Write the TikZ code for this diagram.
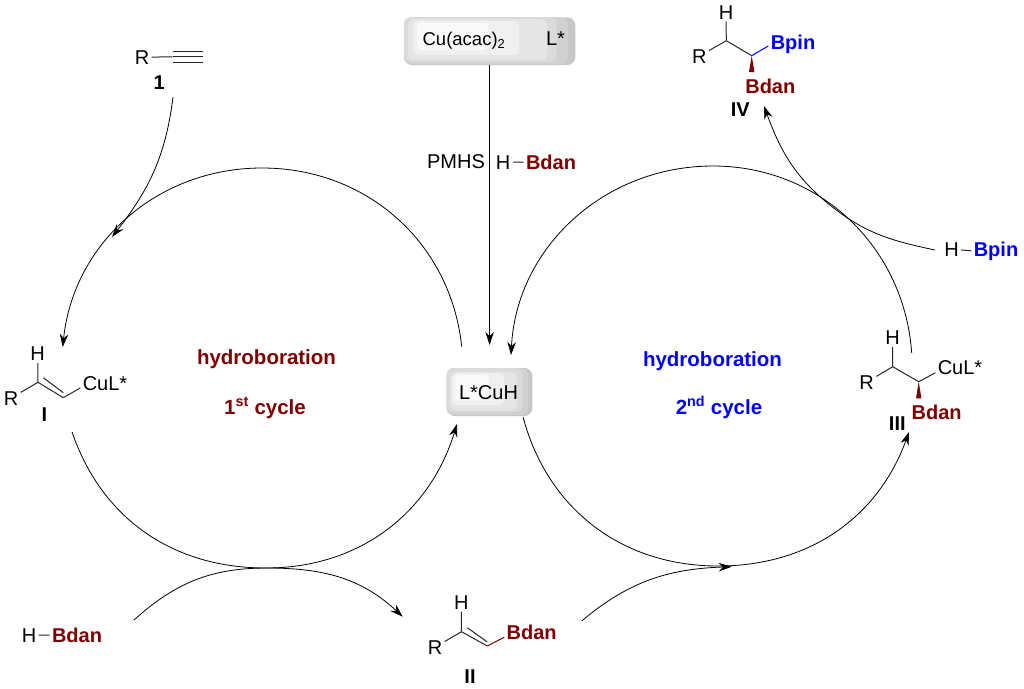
\documentclass[tikz,border=0pt]{standalone}
\usepackage{fontspec}
\setmainfont{Liberation Sans}
\usetikzlibrary{arrows.meta}
\definecolor{bdanred}{HTML}{800000}
\definecolor{bpinblue}{HTML}{0000FF}
\begin{document}
\begin{tikzpicture}[x=1pt, y=-1pt]
\tikzset{atome/.style={inner sep=0pt, outer sep=2.5pt, anchor=base, font=\fontsize{20}{24}\selectfont}}
\tikzset{gras/.style={atome, font=\fontsize{20}{24}\selectfont\bfseries}}
\tikzset{titre/.style={inner sep=0pt, outer sep=0pt, anchor=base, font=\fontsize{20.5}{24}\selectfont\bfseries}}
\tikzset{lien/.style={line width=1pt, black!85}}
\tikzset{fleche/.style={line width=0.8pt, -{Stealth[length=13pt, width=8.5pt]}}}
\tikzset{boite/.style={fill=black!22, rounded corners=8pt, inner sep=0pt}}
\tikzset{bandea/.style={fill=black!18, rounded corners=7pt}}
\tikzset{bandeb/.style={fill=black!14, rounded corners=7pt}}
\tikzset{bandec/.style={fill=black!10, rounded corners=6pt}}
\tikzset{banded/.style={fill=black!6, rounded corners=5pt}}
\tikzset{bandee/.style={fill=black!2, rounded corners=4pt}}
\useasboundingbox (0,0) rectangle (1024,688);
% boxes
\node[boite, minimum width=171.3pt, minimum height=47.7pt] (CAT) at (489.6,41.2) {};
\fill[bandea] (404,17.3) rectangle (568,64);
\fill[bandeb] (404,17.3) rectangle (556.7,62);
\fill[bandec] (408,19) rectangle (547,60);
\fill[banded] (413,21) rectangle (519,55);
\fill[bandee] (417,23) rectangle (488,50);
\node[boite, minimum width=85.6pt, minimum height=48pt] (CUH) at (489.5,392) {};
\fill[bandea] (446.7,368) rectangle (528,415);
\fill[bandeb] (446.7,368) rectangle (522.7,412);
\fill[bandec] (450,372) rectangle (517,410);
\fill[banded] (452,373) rectangle (504,405);
\fill[bandee] (455,375) rectangle (489,400);
\node[atome, font=\fontsize{18.5}{22}\selectfont] (ACAC) at (464,45) {Cu(acac)\textsubscript{2}};
\node[atome] (LS) at (555.5,45) {L*};
\node[atome] (LCUH) at (488.5,399) {L*CuH};
% reagents on the centre arrow
\node[atome] (PMHS) at (456,168) {PMHS};
\node[atome] (H1) at (503.2,169) {H};
\node[gras, bdanred] (B1) at (551,169) {Bdan};
\draw[lien] (H1) -- (B1);
\node[atome] (H2) at (29,642) {H};
\node[gras, bdanred] (B2) at (77,642) {Bdan};
\draw[lien] (H2) -- (B2);
\node[atome] (H3) at (951.5,256) {H};
\node[gras, bpinblue] (B3) at (996,256) {Bpin};
\draw[lien] (H3) -- (B3.180);
% cycle labels
\node[titre, bdanred] (T1) at (266.5,364) {hydroboration};
\node[titre, bdanred] (C1) at (265,414) {1\textsuperscript{st} cycle};
\node[titre, bpinblue] (T2) at (712.5,366) {hydroboration};
\node[titre, bpinblue] (C2) at (719,414) {2\textsuperscript{nd} cycle};
% alkyne 1
\node[atome] (R1) at (142,64) {R};
\node[gras] (N1) at (159.3,89) {1};
\coordinate (Y1) at (172.7,56.9);
\coordinate (Y2) at (202.7,56.9);
\draw[lien] (R1) -- (Y1);
\draw[lien] (Y1) -- (Y2);
\draw[lien] (173,51.7) -- (202.7,51.7);
\draw[lien] (173,62.3) -- (202.7,62.3);
% I
\node[atome] (HI) at (37.7,360.5) {H};
\node[atome] (RI) at (11,405) {R};
\node[atome] (CI) at (105,390.5) {CuL*};
\node[gras] (NI) at (44.3,421) {I};
\coordinate (AI) at (38,382.3);
\coordinate (BI) at (63.3,397.7);
\draw[lien] (HI) -- (AI);
\draw[lien] (RI) -- (AI);
\draw[lien] (AI) -- (BI);
\draw[lien] (43.3,377.7) -- (63.3,392.7);
\draw[lien] (BI) -- (CI.190);
% II
\node[atome] (HII) at (461.3,609) {H};
\node[atome] (RII) at (435,654) {R};
\node[gras, bdanred] (BII) at (531.7,639) {Bdan};
\node[gras] (NII) at (470,683) {II};
\coordinate (AII) at (461.5,631.7);
\coordinate (CII) at (487.3,646);
\draw[lien] (HII) -- (AII);
\draw[lien] (RII) -- (AII);
\draw[lien] (AII) -- (CII);
\draw[lien] (467.3,627.7) -- (487.3,642);
\draw[lien, bdanred] (CII) -- (BII.191);
% III
\node[atome] (HIII) at (892.5,344.5) {H};
\node[atome] (RIII) at (866.7,389) {R};
\node[atome] (CIII) at (960,374) {CuL*};
\node[gras, bdanred] (BIII) at (936.7,419.5) {Bdan};
\node[gras] (NIII) at (897.3,430) {III};
\coordinate (AIII) at (892.7,366.7);
\coordinate (DIII) at (918.7,381.7);
\draw[lien] (HIII) -- (AIII);
\draw[lien] (RIII) -- (AIII);
\draw[lien] (AIII) -- (DIII);
\draw[lien] (DIII) -- (CIII.193);
\fill[bdanred] (DIII) -- (916,398.3) -- (921.4,398.3) -- cycle;
% IV
\node[atome] (HIV) at (726,19) {H};
\node[atome] (RIV) at (699.3,63) {R};
\node[gras, bpinblue] (PIV) at (793,49) {Bpin};
\node[gras, bdanred] (BIV) at (770.3,93.2) {Bdan};
\node[gras] (NIV) at (740.3,116.5) {IV};
\coordinate (AIV) at (726.3,40.7);
\coordinate (DIV) at (751.7,55.7);
\draw[lien] (HIV) -- (AIV);
\draw[lien] (RIV) -- (AIV);
\draw[lien] (AIV) -- (DIV);
\draw[lien, bpinblue] (DIV) -- (PIV.185);
\fill[bdanred] (DIV) -- (749,72) -- (754.4,72) -- cycle;
% arrow ends
\coordinate (P1) at (461.7,346.7);
\coordinate (P2) at (262,168);
\coordinate (P3) at (62.7,347);
\coordinate (P4) at (72,432);
\coordinate (P5) at (266,568);
\coordinate (P6) at (457,424);
\coordinate (P7) at (911.7,353);
\coordinate (P8) at (713,166);
\coordinate (P9) at (511,355);
\coordinate (P10) at (523,417);
\coordinate (P11) at (718,566);
\coordinate (P12) at (909,432);
\coordinate (P13) at (134,620);
\coordinate (P14) at (267,568);
\coordinate (P15) at (402.7,616.7);
\coordinate (P16) at (582,620.7);
\coordinate (P17) at (731.7,566.7);
\coordinate (P18) at (935,250);
\coordinate (P23) at (833,207.5);
\coordinate (P19) at (764,106);
\coordinate (P20) at (173,97);
\coordinate (P21) at (112,237);
\coordinate (P22) at (489.6,345);
\draw[fleche] (CAT) -- (P22);
\draw[fleche] (P1) to[out=96,in=0] (P2) to[out=180,in=84] (P3);
\draw[fleche] (P4) to[out=289,in=180] (P5) to[out=0,in=253] (P6);
\draw[fleche] (P7) to[out=94,in=0] (P8) to[out=180,in=87] (P9);
\draw[fleche] (P10) to[out=285,in=180] (P11) to[out=0,in=250] (P12);
\draw[fleche] (P13) to[out=42,in=180] (P14) to[out=0,in=137] (P15);
\draw[fleche] (P16) to[out=40,in=182] (P17);
\draw[fleche] (P18) to[out=168,in=322] (P23) to[out=142,in=290] (P19);
\draw[fleche] (P20) to[out=263,in=52] (P21);
\end{tikzpicture}
\end{document}
